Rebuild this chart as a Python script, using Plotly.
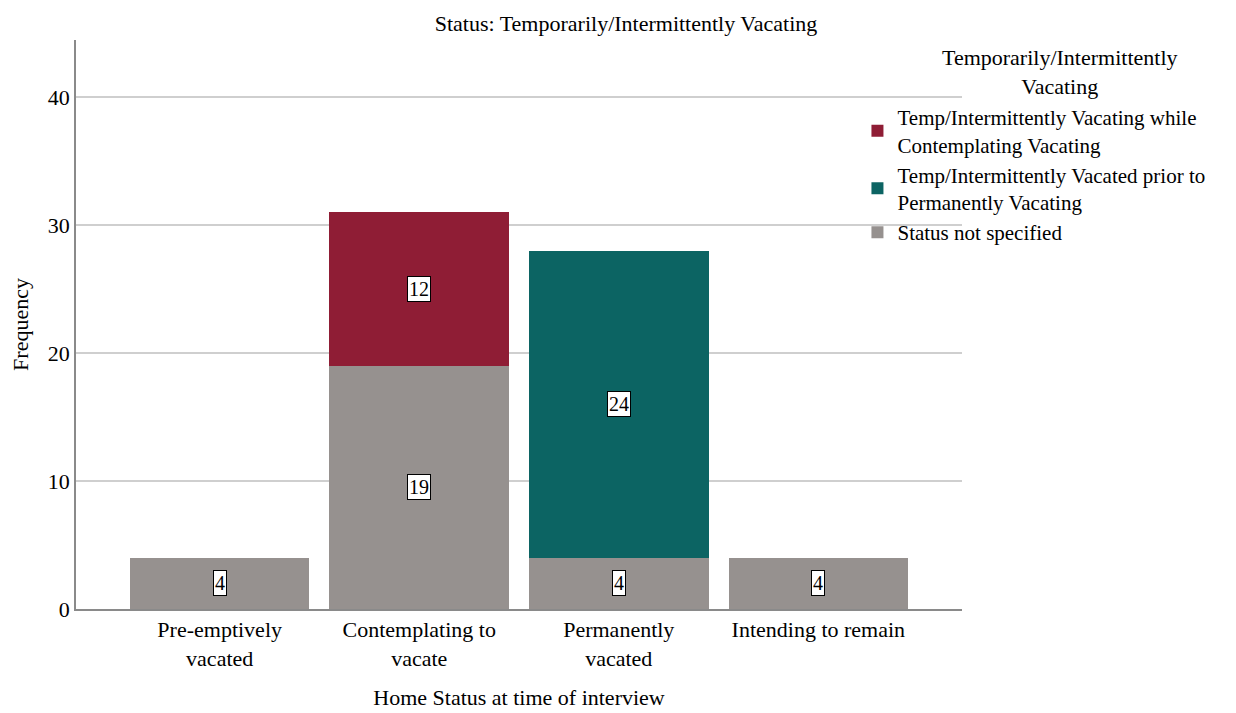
import plotly.graph_objects as go

categories = ["Pre-emptively<br>vacated", "Contemplating to<br>vacate", "Permanently<br>vacated", "Intending to remain"]
not_specified = [4, 19, 4, 4]
contemplating = [None, 12, None, None]
prior_perm = [None, None, 24, None]

names = ["Status not specified",
         "Temp/Intermittently Vacated prior to<br>Permanently Vacating",
         "Temp/Intermittently Vacating while<br>Contemplating Vacating"]
colors = ["#96918F", "#0C6463", "#8F1D35"]
series = [not_specified, prior_perm, contemplating]

FONT = "Liberation Serif, Times New Roman, serif"
x = list(range(len(categories)))

fig = go.Figure()
for name, col, vals in zip(names, colors, series):
    fig.add_trace(go.Bar(x=x, y=vals, name=name, marker=dict(color=col, line=dict(width=0)),
                         width=0.9))

# data labels in boxes
base = [0] * len(categories)
for vals in series:
    for i, v in enumerate(vals):
        if v:
            fig.add_annotation(x=x[i], y=base[i] + v / 2, text=str(v), showarrow=False,
                               bgcolor="white", bordercolor="black", borderwidth=1, borderpad=1,
                               font=dict(family=FONT, size=20, color="black"))
            base[i] += v

# legend title (centered, two lines)
fig.add_annotation(xref="paper", yref="paper", x=1.1106, y=0.995, xanchor="center", yanchor="top",
                   text="Temporarily/Intermittently<br>Vacating", showarrow=False, align="center",
                   font=dict(family=FONT, size=22, color="black"))

fig.update_layout(
    barmode="stack",
    width=1236, height=713,
    paper_bgcolor="white", plot_bgcolor="white",
    margin=dict(l=68, r=282, t=32, b=112, autoexpand=False),
    font=dict(family=FONT, size=22, color="black"),
    title=dict(text="Status: Temporarily/Intermittently Vacating", x=0.5, xanchor="center",
               y=0.979, yanchor="middle", font=dict(family=FONT, size=22)),
    xaxis=dict(tickmode="array", tickvals=x, ticktext=categories, range=[-0.72, 3.72],
               automargin=False,
               showline=True, linecolor="#8a8a8a", linewidth=1.5, showgrid=False, ticks="",
               title=dict(text="Home Status at time of interview", standoff=20,
                          font=dict(family=FONT, size=22)),
               tickfont=dict(family=FONT, size=22)),
    yaxis=dict(range=[0, 44.45], tickvals=[0, 10, 20, 30, 40], showline=True, linecolor="#8a8a8a",
               automargin=False,
               linewidth=1.5, showgrid=True, gridcolor="#cfcfcf", gridwidth=1.5, zeroline=False, ticks="",
               title=dict(text="Frequency", standoff=14, font=dict(family=FONT, size=22)),
               tickfont=dict(family=FONT, size=22)),
    legend=dict(x=0.882, xanchor="left", y=0.9, yanchor="top", traceorder="reversed",
                bgcolor="rgba(0,0,0,0)", font=dict(family=FONT, size=21),
                tracegroupgap=0, itemwidth=30),
)

fig.write_html("out.html")
